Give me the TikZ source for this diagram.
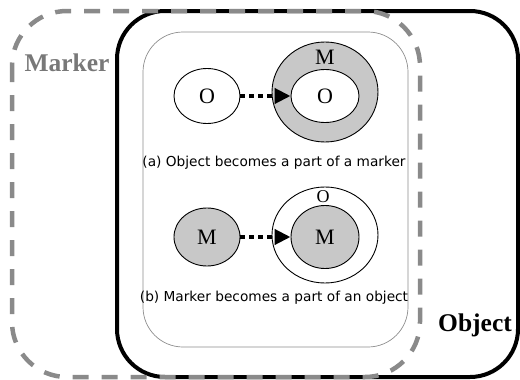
\documentclass[tikz,border=0pt]{standalone}
\usepackage{fontspec}
\setmainfont{Liberation Serif}
\newfontfamily\capfont{DejaVu Sans}
\usetikzlibrary{arrows.meta,shapes.geometric}
\definecolor{dashgray}{HTML}{8A8A8A}
\definecolor{fillgray}{HTML}{C8C8C8}
\definecolor{labgray}{HTML}{787878}
\definecolor{thingray}{HTML}{8C8C8C}
\begin{document}
\begin{tikzpicture}[x=1pt,y=-1pt,
  ell/.style={draw,ellipse,line width=0.9pt,inner sep=0pt,font=\fontsize{22}{24}\selectfont},
  captext/.style={font=\capfont\fontsize{13.7}{16}\selectfont,inner sep=0pt},
  lab/.style={font=\fontsize{22}{24}\selectfont,inner sep=0pt},
  big/.style={font=\bfseries\fontsize{25.5}{28}\selectfont,inner sep=0pt},
  flow/.style={line width=4.5pt,dash pattern=on 5pt off 4pt,-{Triangle[length=16pt,width=15pt]}}
]
\useasboundingbox (0,0) rectangle (520,380);
% inner thin frame
\draw[thingray,line width=0.7pt,rounded corners=40pt] (143,32) rectangle (408,347);
% object frame
\draw[black,line width=4pt,rounded corners=48pt] (117,11) rectangle (518,377);
% marker frame
\draw[dashgray,line width=4.5pt,dash pattern=on 16pt off 13pt,rounded corners=55pt] (12,11) rectangle (420,377);
% labels
\node[big,text=labgray] (mk) at (67,63) {Marker};
\node[big] (ob) at (475,325) {Object};
% (a)
\node[ell,minimum width=66pt,minimum height=55pt] (a1) at (207,96) {O};
\node[ell,fill=fillgray,minimum width=106pt,minimum height=100pt] (a2) at (325,92) {};
\node[ell,fill=white,minimum width=68pt,minimum height=53pt] (a3) at (325,96) {O};
\node[lab] (a4) at (325,57) {M};
\draw[flow] (a1.east) -- (a3.west);
\node[captext] (ca) at (274,163) {(a) Object becomes a part of a marker};
% (b)
\node[ell,fill=fillgray,minimum width=66pt,minimum height=58pt] (b1) at (207,237) {M};
\node[ell,fill=white,minimum width=106pt,minimum height=96pt] (b2) at (325,235) {};
\node[ell,fill=fillgray,minimum width=68pt,minimum height=63pt] (b3) at (325,237) {M};
\node[lab,font=\fontsize{18}{20}\selectfont] (b4) at (323,197) {O};
\draw[flow] (b1.east) -- (b3.west);
\node[captext] (cb) at (274,298) {(b) Marker becomes a part of an object};
\end{tikzpicture}
\end{document}
